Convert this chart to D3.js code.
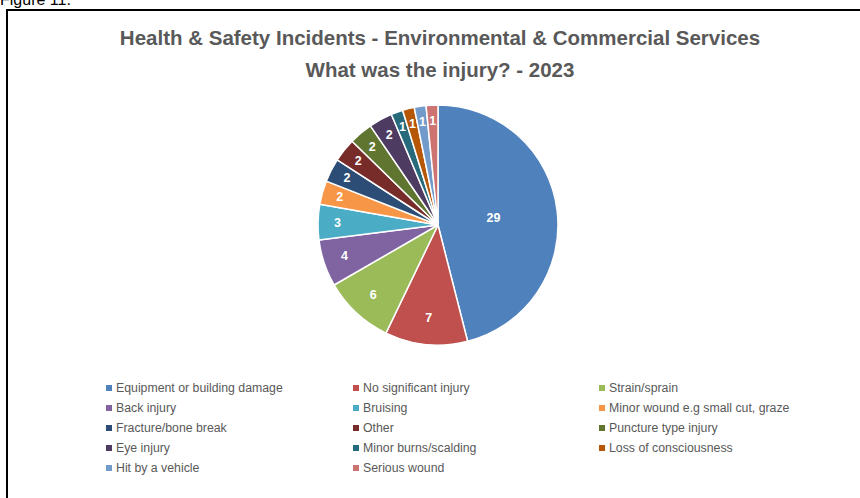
<!DOCTYPE html>
<html>
<head>
<meta charset="utf-8">
<script src="https://cdn.jsdelivr.net/npm/d3@7"></script>
<style>
  html, body { margin: 0; padding: 0; background: #fff; }
  svg { display: block; font-family: "Liberation Sans", Arial, sans-serif; }
</style>
</head>
<body>
<svg id="chart" width="860" height="498"></svg>
<script>
// Injury categories and counts for 2023
const categories = [
  "Equipment or building damage", "No significant injury", "Strain/sprain",
  "Back injury", "Bruising", "Minor wound e.g small cut, graze",
  "Fracture/bone break", "Other", "Puncture type injury",
  "Eye injury", "Minor burns/scalding", "Loss of consciousness",
  "Hit by a vehicle", "Serious wound"
];
const counts = [29, 7, 6, 4, 3, 2, 2, 2, 2, 2, 1, 1, 1, 1];
const palette = [
  "#4F81BD", "#C0504D", "#9BBB59", "#8064A2", "#4BACC6", "#F79646",
  "#2C4D75", "#772C2A", "#5F7530", "#4D3B62", "#276A7C", "#B65708",
  "#729ACA", "#CD7371"
];
const titleLines = [
  "Health & Safety Incidents - Environmental & Commercial Services",
  "What was the injury? - 2023"
];

const svg = d3.select("#chart");
const W = 860, H = 498;

// Caption above the chart frame
svg.append("text").attr("x", 0).attr("y", 5)
  .attr("font-size", 16).attr("fill", "#000").text("Figure 11.");

// Chart frame
svg.append("rect").attr("x", 7).attr("y", 10).attr("width", W + 20).attr("height", H + 20)
  .attr("fill", "#fff").attr("stroke", "#000").attr("stroke-width", 2);

// Title
const titleG = svg.append("g");
titleLines.forEach((t, i) => {
  titleG.append("text")
    .attr("x", 440).attr("y", 45 + i * 32)
    .attr("text-anchor", "middle")
    .attr("font-size", 20.5).attr("font-weight", "bold")
    .attr("fill", "#595959").text(t);
});

// Pie
const cx = 438, cy = 225, r = 120;
const color = d3.scaleOrdinal().domain(categories).range(palette);
const pie = d3.pie().sort(null).value(d => d.value);
const data = categories.map((c, i) => ({ name: c, value: counts[i] }));
const arcs = pie(data);
const arc = d3.arc().innerRadius(0).outerRadius(r);

const pieG = svg.append("g").attr("transform", `translate(${cx},${cy})`);
pieG.selectAll("path").data(arcs).join("path")
  .attr("d", arc)
  .attr("fill", d => color(d.data.name))
  .attr("stroke", "#fff").attr("stroke-width", 1.5)
  .attr("stroke-linejoin", "round");

// Value labels: wider slices pull the label toward the centre
pieG.selectAll("text.val").data(arcs).join("text")
  .attr("class", "val")
  .each(function (d) {
    const mid = (d.startAngle + d.endAngle) / 2;
    const deg = (d.endAngle - d.startAngle) * 180 / Math.PI;
    const dist = r * (0.88 - 0.0025 * deg);
    d3.select(this)
      .attr("x", dist * Math.sin(mid))
      .attr("y", -dist * Math.cos(mid));
  })
  .attr("text-anchor", "middle").attr("dominant-baseline", "central")
  .attr("font-size", 12.5).attr("font-weight", "bold").attr("fill", "#fff")
  .text(d => d.data.value);

// Legend, three columns
const colX = [106, 353, 599];
const rowY0 = 388, rowStep = 20;
const legend = svg.append("g");
categories.forEach((c, i) => {
  const col = i % 3, row = Math.floor(i / 3);
  const x = colX[col], y = rowY0 + row * rowStep;
  legend.append("rect").attr("x", x).attr("y", y - 3)
    .attr("width", 6).attr("height", 6).attr("fill", color(c));
  legend.append("text").attr("x", x + 10).attr("y", y)
    .attr("dominant-baseline", "central")
    .attr("font-size", 12.3).attr("fill", "#595959").text(c);
});
</script>
</body>
</html>
